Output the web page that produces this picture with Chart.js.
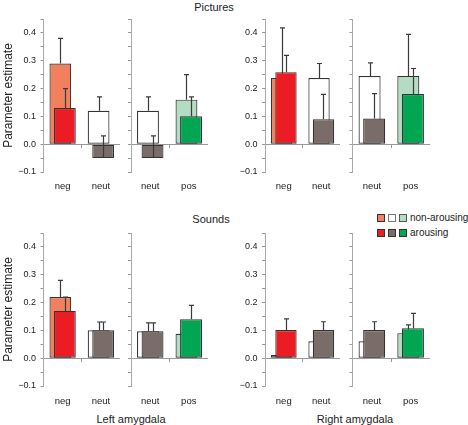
<!DOCTYPE html>
<html><head><meta charset="utf-8">
<script src="https://cdn.jsdelivr.net/npm/chart.js@4.4.1/dist/chart.umd.min.js"></script>
<style>
html,body{margin:0;padding:0;background:#fff;}
body{width:468px;height:425px;position:relative;overflow:hidden;font-family:"Liberation Sans",Arial,sans-serif;color:#222;}
canvas{position:absolute;}
.t{position:absolute;white-space:nowrap;transform:translate(-50%,-50%);line-height:1;font-size:11px;}
.sw{position:absolute;width:6px;height:6px;border:1px solid #333;}
.lt{position:absolute;font-size:10px;line-height:1;white-space:nowrap;transform:translateY(-50%);}
</style></head><body>
<div class="t" style="left:214px;top:7px;">Pictures</div>
<div class="t" style="left:211px;top:219px;">Sounds</div>
<div class="t" style="left:131px;top:419px;">Left amygdala</div>
<div class="t" style="left:355px;top:419px;">Right amygdala</div>
<div class="sw" style="left:377px;top:214px;background:#F2805F;"></div>
<div class="sw" style="left:388px;top:214px;background:#FFFFFF;border-color:#777;"></div>
<div class="sw" style="left:399px;top:214px;background:#B3DDC2;border-color:#555;"></div>
<div class="lt" style="left:410px;top:218px;">non-arousing</div>
<div class="sw" style="left:377px;top:229px;background:#EC1C24;"></div>
<div class="sw" style="left:388px;top:229px;background:#7A6C68;"></div>
<div class="sw" style="left:399px;top:229px;background:#00A651;"></div>
<div class="lt" style="left:410px;top:233px;">arousing</div>
<script>
// ---- categories ----
const categoriesNegNeut = ['neg', 'neut'];
const categoriesNeutPos = ['neut', 'pos'];

// ---- Pictures, left amygdala ----
const picLeftA_non = [0.29, 0.12];
const picLeftA_nonErr = [0.09, 0.05];
const picLeftA_aro = [0.13, -0.05];
const picLeftA_aroErr = [0.07, 0.08];
const picLeftB_non = [0.12, 0.16];
const picLeftB_nonErr = [0.05, 0.09];
const picLeftB_aro = [-0.05, 0.10];
const picLeftB_aroErr = [0.08, 0.07];

// ---- Pictures, right amygdala ----
const picRightA_non = [0.238, 0.238];
const picRightA_nonErr = [0.18, 0.052];
const picRightA_aro = [0.259, 0.09];
const picRightA_aroErr = [0.06, 0.089];
const picRightB_non = [0.245, 0.245];
const picRightB_nonErr = [0.047, 0.15];
const picRightB_aro = [0.092, 0.18];
const picRightB_aroErr = [0.09, 0.092];

// ---- Sounds, left amygdala ----
const sndLeftA_non = [0.22, 0.10];
const sndLeftA_nonErr = [0.06, 0.03];
const sndLeftA_aro = [0.17, 0.10];
const sndLeftA_aroErr = [0.05, 0.03];
const sndLeftB_non = [0.097, 0.088];
const sndLeftB_nonErr = [0.03, 0.03];
const sndLeftB_aro = [0.097, 0.14];
const sndLeftB_aroErr = [0.03, 0.05];

// ---- Sounds, right amygdala ----
const sndRightA_non = [0.011, 0.061];
const sndRightA_nonErr = [0.04, 0.03];
const sndRightA_aro = [0.101, 0.101];
const sndRightA_aroErr = [0.04, 0.03];
const sndRightB_non = [0.061, 0.09];
const sndRightB_nonErr = [0.03, 0.03];
const sndRightB_aro = [0.101, 0.108];
const sndRightB_aroErr = [0.03, 0.053];

// ---- y axis ----
const yMin = -0.1, yMax = 0.45, yStep = 0.05;

const FAMILY = '"Liberation Sans", Arial, sans-serif';
const fillNon = {neg: '#F2805F', neut: '#FFFFFF', pos: '#B3DDC2'};
const fillAro = {neg: '#EC1C24', neut: '#7A6C68', pos: '#00A651'};

function zeroPad(s) { s.paddingTop = 0; s.paddingBottom = 0; s.paddingLeft = 0; s.paddingRight = 0; }

const layerPlugin = {
  id: 'layerAndErrors',
  beforeDatasetsDraw(chart) {
    const ctx = chart.ctx;
    const ys = chart.scales.y;
    [0, 1].forEach(i => {
      const meta = chart.getDatasetMeta(i);
      meta.controller.draw();
      const ds = chart.data.datasets[i];
      ctx.save();
      ctx.strokeStyle = '#3a3a3a';
      ctx.lineWidth = 1.2;
      meta.data.forEach((bar, j) => {
        const top = ys.getPixelForValue(ds.data[j] + ds.errors[j]);
        const x = Math.round(bar.x) + 0.5;
        ctx.beginPath();
        ctx.moveTo(x, bar.y); ctx.lineTo(x, top);
        ctx.moveTo(x - 2.5, top); ctx.lineTo(x + 2.5, top);
        ctx.stroke();
      });
      ctx.restore();
    });
    return false;
  }
};

function makePanel(p) {
  const cv = document.createElement('canvas');
  cv.width = p.w; cv.height = p.h;
  cv.style.left = p.left + 'px'; cv.style.top = p.top + 'px';
  document.body.appendChild(cv);
  const barOpts = {borderColor: '#333', borderWidth: 1.2, borderSkipped: false,
    xAxisID: 'x', yAxisID: 'y', categoryPercentage: 0.237, barPercentage: 4.8};
  new Chart(cv, {
    type: 'bar',
    data: {
      labels: p.labels,
      datasets: [
        Object.assign({data: p.non, errors: p.nonErr, backgroundColor: p.labels.map(c => fillNon[c])}, barOpts),
        Object.assign({data: p.aro, errors: p.aroErr, backgroundColor: p.labels.map(c => fillAro[c])}, barOpts)
      ]
    },
    options: {
      responsive: false, animation: false, events: [],
      layout: {padding: 0},
      plugins: {legend: {display: false}, tooltip: {enabled: false}},
      scales: {
        x: {type: 'category', position: {y: 0}, offset: true,
            grid: {offset: true, drawOnChartArea: false, drawTicks: true, tickLength: 3, color: '#999'},
            border: {color: '#999'}, ticks: {display: false}, afterFit: zeroPad},
        xl: {type: 'category', position: 'bottom', labels: p.labels, offset: true,
            grid: {display: false, drawTicks: false}, border: {display: false},
            ticks: {padding: p.labPad, color: '#222', font: {family: FAMILY, size: 9.5}, maxRotation: 0},
            afterFit(s) { zeroPad(s); s.height = p.labH; }},
        y: {type: 'linear', position: 'left', min: yMin, max: yMax,
            grid: {drawOnChartArea: false, drawTicks: true, tickLength: 3, color: '#999'},
            border: {color: '#aaa'},
            ticks: {stepSize: yStep, display: p.showLabels, padding: 4.5, color: '#222',
                    font: {family: FAMILY, size: 9},
                    callback(v) { const k = Math.round(v * 20); if (k % 2 !== 0) return ''; return (k / 20).toFixed(1).replace('-', '\u2212'); }},
            title: {display: p.title, text: 'Parameter estimate', color: '#222',
                    font: {family: FAMILY, size: 12}, padding: {top: 1, bottom: 0}},
            afterFit(s) { zeroPad(s); s.width = p.yW; }}
      }
    },
    plugins: [layerPlugin]
  });
}

const rows = [
  {top: 19, h: 178, labH: 25, labPad: 9, sets: [
    [categoriesNegNeut, picLeftA_non, picLeftA_nonErr, picLeftA_aro, picLeftA_aroErr],
    [categoriesNeutPos, picLeftB_non, picLeftB_nonErr, picLeftB_aro, picLeftB_aroErr],
    [categoriesNegNeut, picRightA_non, picRightA_nonErr, picRightA_aro, picRightA_aroErr],
    [categoriesNeutPos, picRightB_non, picRightB_nonErr, picRightB_aro, picRightB_aroErr]]},
  {top: 233, h: 178, labH: 25, labPad: 10, sets: [
    [categoriesNegNeut, sndLeftA_non, sndLeftA_nonErr, sndLeftA_aro, sndLeftA_aroErr],
    [categoriesNeutPos, sndLeftB_non, sndLeftB_nonErr, sndLeftB_aro, sndLeftB_aroErr],
    [categoriesNegNeut, sndRightA_non, sndRightA_nonErr, sndRightA_aro, sndRightA_aroErr],
    [categoriesNeutPos, sndRightB_non, sndRightB_nonErr, sndRightB_aro, sndRightB_aroErr]]}
];
// panel frames: canvas left, width, y-axis width, labels, title
const frames = [
  {left: 0, w: 120, yW: 43.5, showLabels: true, title: true},
  {left: 125, w: 83, yW: 6, showLabels: false, title: false},
  {left: 221, w: 119, yW: 44, showLabels: true, title: false},
  {left: 346, w: 84, yW: 6.5, showLabels: false, title: false}
];
rows.forEach(r => {
  r.sets.forEach((s, i) => {
    const f = frames[i];
    makePanel({left: f.left, w: f.w, yW: f.yW, showLabels: f.showLabels, title: f.title,
      top: r.top, h: r.h, labH: r.labH, labPad: r.labPad,
      labels: s[0], non: s[1], nonErr: s[2], aro: s[3], aroErr: s[4]});
  });
});
</script>
</body></html>
